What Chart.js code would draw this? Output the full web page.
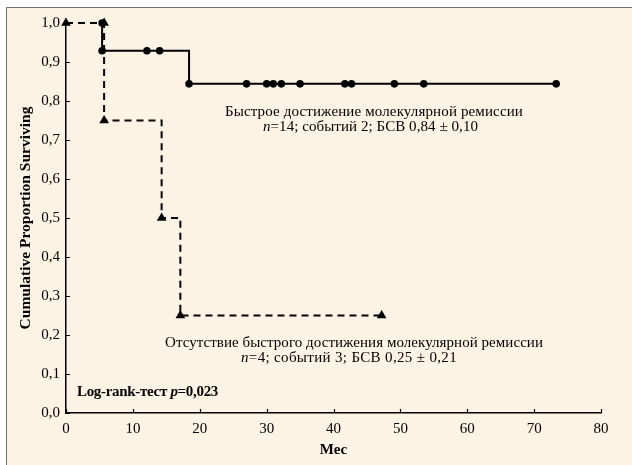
<!DOCTYPE html>
<html>
<head>
<meta charset="utf-8">
<script src="https://cdn.jsdelivr.net/npm/chart.js@4/dist/chart.umd.min.js"></script>
<style>
  html, body { margin: 0; padding: 0; background: #ffffff; }
  #c { display: block; }
</style>
</head>
<body>
<canvas id="c" width="632" height="465"></canvas>
<script>
// Kaplan–Meier curves: event-free survival by speed of molecular remission
const xTicks = [0, 10, 20, 30, 40, 50, 60, 70, 80];
const yTicks = [0, 0.1, 0.2, 0.3, 0.4, 0.5, 0.6, 0.7, 0.8, 0.9, 1.0];

// Rapid molecular remission (n=14): steps + censored marks
const fastMonths = [5.4, 5.4, 12.1, 14.0, 18.4, 27.0, 30.0, 31.0, 32.2, 35.0, 41.7, 42.7, 49.1, 53.5, 73.3];
const fastSurvival = [1.0, 0.929, 0.929, 0.929, 0.844, 0.844, 0.844, 0.844, 0.844, 0.844, 0.844, 0.844, 0.844, 0.844, 0.844];

// No rapid molecular remission (n=4)
const slowMonths = [0, 5.7, 5.7, 14.3, 17.1, 47.2];
const slowSurvival = [1.0, 1.0, 0.75, 0.5, 0.25, 0.25];

const SERIF = '"Liberation Serif", "Times New Roman", serif';
const CREAM = 'rgb(253,243,228)';

const toPoints = (xs, ys) => xs.map((x, i) => ({ x: x, y: ys[i] }));

// Panel background with a thin frame
const panelPlugin = {
  id: 'panel',
  beforeDraw(chart) {
    const ctx = chart.ctx;
    ctx.save();
    ctx.fillStyle = '#ffffff';
    ctx.fillRect(0, 0, chart.width, chart.height);
    ctx.fillStyle = CREAM;
    ctx.fillRect(6, 7, chart.width - 6, chart.height - 7);
    ctx.strokeStyle = '#6e6e6e';
    ctx.lineWidth = 1;
    ctx.beginPath();
    ctx.moveTo(6.5, chart.height);
    ctx.lineTo(6.5, 7.5);
    ctx.lineTo(chart.width, 7.5);
    ctx.stroke();
    ctx.restore();
  }
};

// Short tick marks pointing into the plot area
const innerTicksPlugin = {
  id: 'innerTicks',
  afterDatasetsDraw(chart) {
    const ctx = chart.ctx;
    const xs = chart.scales.x, ys = chart.scales.y;
    const area = chart.chartArea;
    ctx.save();
    ctx.strokeStyle = '#000';
    ctx.lineWidth = 1.2;
    ctx.beginPath();
    xTicks.forEach(v => {
      const px = Math.round(xs.getPixelForValue(v)) + 0.5;
      ctx.moveTo(px, area.bottom);
      ctx.lineTo(px, area.bottom - 4);
    });
    yTicks.forEach(v => {
      const py = Math.round(ys.getPixelForValue(v)) + 0.5;
      ctx.moveTo(area.left, py);
      ctx.lineTo(area.left + 4, py);
    });
    ctx.stroke();
    ctx.restore();
  }
};

// Draw a line made of runs with different fonts, fitted to a width
function drawRuns(ctx, runs, left, baseline, width) {
  ctx.letterSpacing = '0px';
  let natural = 0, chars = 0;
  runs.forEach(r => { ctx.font = r[1]; natural += ctx.measureText(r[0]).width; chars += r[0].length; });
  const ls = (width - natural) / chars;
  ctx.letterSpacing = ls.toFixed(3) + 'px';
  let x = left;
  runs.forEach(r => {
    ctx.font = r[1];
    ctx.fillText(r[0], x, baseline);
    x += ctx.measureText(r[0]).width;
  });
  ctx.letterSpacing = '0px';
}

const annotationPlugin = {
  id: 'notes',
  afterDraw(chart) {
    const ctx = chart.ctx;
    ctx.save();
    ctx.fillStyle = '#000';
    ctx.textAlign = 'left';
    ctx.textBaseline = 'alphabetic';
    const reg = '15px ' + SERIF;
    const ital = 'italic 15px ' + SERIF;
    const bold = 'bold 15px ' + SERIF;
    const boldItal = 'bold italic 15px ' + SERIF;
    drawRuns(ctx, [['Быстрое достижение молекулярной ремиссии', reg]], 225, 116, 298);
    drawRuns(ctx, [['n', ital], ['=14; событий 2; БСВ 0,84 ± 0,10', reg]], 263, 130.5, 215);
    drawRuns(ctx, [['Отсутствие быстрого достижения молекулярной ремиссии', reg]], 165, 347, 378);
    drawRuns(ctx, [['n', ital], ['=4; событий 3; БСВ 0,25 ± 0,21', reg]], 241, 361.5, 216);
    drawRuns(ctx, [['Log-rank-тест ', bold], ['p', boldItal], ['=0,023', bold]], 77, 395.5, 141);
    ctx.restore();
  }
};

const fmt = v => v.toFixed(1).replace('.', ',');

new Chart(document.getElementById('c'), {
  type: 'scatter',
  data: {
    datasets: [
      {
        label: 'Быстрое достижение молекулярной ремиссии',
        data: toPoints(fastMonths, fastSurvival),
        showLine: true,
        stepped: true,
        borderColor: '#000',
        borderWidth: 2,
        backgroundColor: '#000',
        pointStyle: 'circle',
        pointRadius: 3.8,
        pointBorderWidth: 0,
        clip: false
      },
      {
        label: 'Отсутствие быстрого достижения молекулярной ремиссии',
        data: toPoints(slowMonths, slowSurvival),
        showLine: true,
        stepped: true,
        borderColor: '#000',
        borderWidth: 2,
        borderDash: [7, 5],
        backgroundColor: '#000',
        pointStyle: 'triangle',
        pointRadius: 5.6,
        pointBorderWidth: 0,
        clip: false
      }
    ]
  },
  options: {
    responsive: false,
    animation: false,
    devicePixelRatio: 1,
    layout: { padding: { top: 23, right: 31, left: 0, bottom: 0 } },
    plugins: { legend: { display: false }, tooltip: { enabled: false } },
    scales: {
      x: {
        type: 'linear',
        min: 0,
        max: 80,
        afterBuildTicks: s => { s.ticks = xTicks.map(v => ({ value: v })); },
        afterFit: s => { s.height = 52; },
        grid: { display: true, drawOnChartArea: false, drawTicks: false },
        border: { display: true, color: '#000', width: 1.5 },
        ticks: { color: '#000', padding: 7, font: { family: SERIF, size: 15 }, callback: v => String(v) },
        title: { display: true, text: 'Мес', color: '#000', padding: { top: 0, bottom: 6 }, font: { family: SERIF, size: 15, weight: 'bold' } }
      },
      y: {
        type: 'linear',
        min: 0,
        max: 1,
        afterBuildTicks: s => { s.ticks = yTicks.map(v => ({ value: v })); },
        afterFit: s => { s.width = 66; },
        grid: { display: true, drawOnChartArea: false, drawTicks: false },
        border: { display: true, color: '#000', width: 1.5 },
        ticks: { color: '#000', padding: 6, font: { family: SERIF, size: 15 }, callback: v => fmt(v) },
        title: { display: true, text: 'Cumulative Proportion Surviving', color: '#000', padding: { top: 17, bottom: 0 }, font: { family: SERIF, size: 15.5, weight: 'bold' } }
      }
    }
  },
  plugins: [panelPlugin, innerTicksPlugin, annotationPlugin]
});
</script>
</body>
</html>
